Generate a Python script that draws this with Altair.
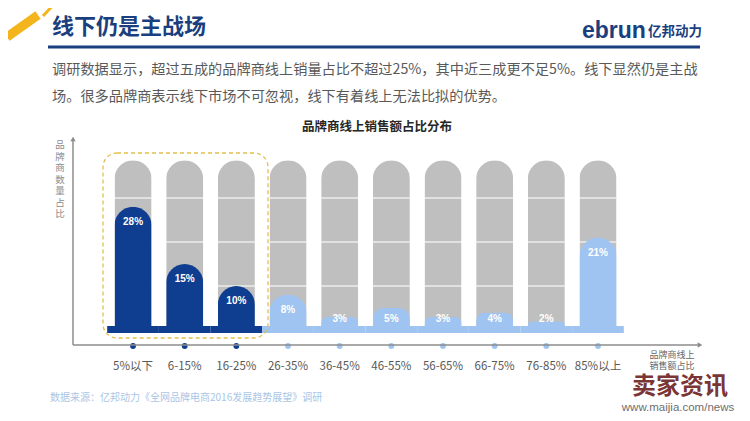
import altair as alt
import pandas as pd

# ---------------- data ----------------
categories = ["5%以下", "6-15%", "16-25%", "26-35%", "36-45%",
              "46-55%", "56-65%", "66-75%", "76-85%", "85%以上"]
shares = [28, 15, 10, 8, 3, 5, 3, 4, 2, 21]
groups = ["focus", "focus", "focus", "other", "other",
          "other", "other", "other", "other", "other"]
track_level = 38.6
grid_levels = [10, 20, 30]

title_text = "线下仍是主战场"
para_lines = ["调研数据显示，超过五成的品牌商线上销量占比不超过25%，其中近三成更不足5%。线下显然仍是主战",
              "场。很多品牌商表示线下市场不可忽视，线下有着线上无法比拟的优势。"]
chart_title = "品牌商线上销售额占比分布"
y_label = ["品", "牌", "商", "数", "量", "占", "比"]
x_label = ["品牌商线上", "销售额占比"]
source_text = "数据来源：亿邦动力《全网品牌电商2016发展趋势展望》调研"

df = pd.DataFrame({"cat": categories, "share": shares, "group": groups,
                   "track": [track_level] * len(categories)})
grid_df = pd.DataFrame([{"cat": c, "lvl": l} for c in categories for l in grid_levels])
one = pd.DataFrame({"k": [1]})

NAVY = "#1b3f7e"
FONT = "Noto Sans CJK SC"

X = alt.X("cat:N", sort=categories, axis=None,
          scale=alt.Scale(domain=categories, range=[99.2, 615.8],
                          paddingInner=0.283, paddingOuter=0.1415))
yscale = alt.Scale(domain=[0, 40], range=[322, 146], nice=False)
color = alt.Color("group:N", legend=None,
                  scale=alt.Scale(domain=["focus", "other"], range=["#0f3d8f", "#9fc4f1"]))

base = alt.Chart(df)

track = base.mark_bar(color="#bfbfbf", cornerRadiusTopLeft=18.5, cornerRadiusTopRight=18.5).encode(
    x=X, y=alt.Y("track:Q", scale=yscale, axis=None))

grid = alt.Chart(grid_df).mark_tick(color="white", thickness=1.5, size=37).encode(
    x=X, y=alt.Y("lvl:Q", scale=yscale, axis=None))

strip = base.transform_calculate(hi="0.9", lo="-0.7").mark_bar(width=51.7).encode(
    x=X, y=alt.Y("hi:Q", scale=yscale, axis=None), y2="lo:Q", color=color)

bars = base.mark_bar(cornerRadiusTopLeft=18.5, cornerRadiusTopRight=18.5).encode(
    x=X, y=alt.Y("share:Q", scale=yscale, axis=None), color=color)

labels = base.transform_calculate(
    ly="max(datum.share - 3.5, 2.5)", lbl="datum.share + '%'"
).mark_text(color="white", fontWeight="bold", fontSize=10, font="Liberation Sans").encode(
    x=X, y=alt.Y("ly:Q", scale=yscale, axis=None), text="lbl:N")

dots = base.mark_circle(size=34, opacity=1).encode(x=X, y=alt.value(338), color=color)

xlabels = base.mark_text(fontSize=11.5, color="#595959", font=FONT).encode(
    x=X, y=alt.value(359), text="cat:N")


def txt(text, x, y, **kw):
    font = kw.pop("font", FONT)
    return alt.Chart(one).mark_text(font=font, **kw).encode(
        x=alt.value(x), y=alt.value(y), text=alt.value(text))


def rule(x, y, x2=None, y2=None, **kw):
    enc = dict(x=alt.value(x), y=alt.value(y))
    if x2 is not None:
        enc["x2"] = alt.value(x2)
    if y2 is not None:
        enc["y2"] = alt.value(y2)
    return alt.Chart(one).mark_rule(**kw).encode(**enc)


deco = [
    rule(-1, 29, 30, 7, color="#f3b51b", strokeWidth=9),
    rule(49, -7, 35, 8, color="#f3b51b", strokeWidth=3),
    txt(title_text, 44, 19, fontSize=22, fontWeight="bold", color=NAVY, align="left", baseline="middle"),
    rule(40, 39, 692, None, color=NAVY, strokeWidth=3.2),
    txt("ebrun", 574, 23, fontSize=23, fontWeight="bold", color=NAVY, align="left",
        baseline="middle", font="Liberation Sans"),
    txt("亿邦动力", 640, 24, fontSize=13.5, fontWeight="bold", color=NAVY, align="left", baseline="middle"),
    txt(para_lines[0], 44, 62, fontSize=14.2, color="#595959", align="left", baseline="middle"),
    txt(para_lines[1], 44, 89, fontSize=14.2, color="#595959", align="left", baseline="middle"),
    txt(chart_title, 369, 119, fontSize=12.5, fontWeight="bold", color="#262626", baseline="middle"),
    rule(65, 131, None, 337, color="#8c8c8c", strokeWidth=1.5),
    rule(65, 337, 690, None, color="#8c8c8c", strokeWidth=1.5),
    alt.Chart(one).mark_point(shape="triangle-up", filled=True, size=28, color="#8c8c8c", opacity=1).encode(
        x=alt.value(65), y=alt.value(131)),
    alt.Chart(one).mark_point(shape="triangle-right", filled=True, size=28, color="#8c8c8c", opacity=1).encode(
        x=alt.value(692), y=alt.value(337)),
    alt.Chart(one).mark_rect(fillOpacity=0, stroke="#e3c04d", strokeDash=[4, 3], strokeWidth=1.3,
                             cornerRadius=14).encode(
        x=alt.value(95), x2=alt.value(260), y=alt.value(145), y2=alt.value(330)),
    txt(source_text, 42, 390, fontSize=10, color="#a9c6e6", align="left", baseline="middle"),
    txt("卖家资讯", 672, 386, fontSize=24, fontWeight="bold", color="#7a3535", baseline="alphabetic"),
    txt("www.maijia.com/news", 670, 403, fontSize=11.5, color="#6e6e6e", baseline="alphabetic",
        font="Liberation Sans"),
    txt("\n".join(y_label), 52, 132, fontSize=9.5, color="#8c8c8c", baseline="top",
        lineBreak="\n", lineHeight=11.5),
    txt("\n".join(x_label), 664, 343, fontSize=9, color="#666666", baseline="top",
        lineBreak="\n", lineHeight=11),
]

chart = alt.layer(track, grid, strip, bars, labels, dots, xlabels, *deco).properties(
    width=734, height=405, autosize=alt.AutoSizeParams(type="none"), padding=0
).configure(font=FONT).configure_view(stroke=None)

chart.save("out.html", embed_options={"renderer": "svg", "actions": False})
